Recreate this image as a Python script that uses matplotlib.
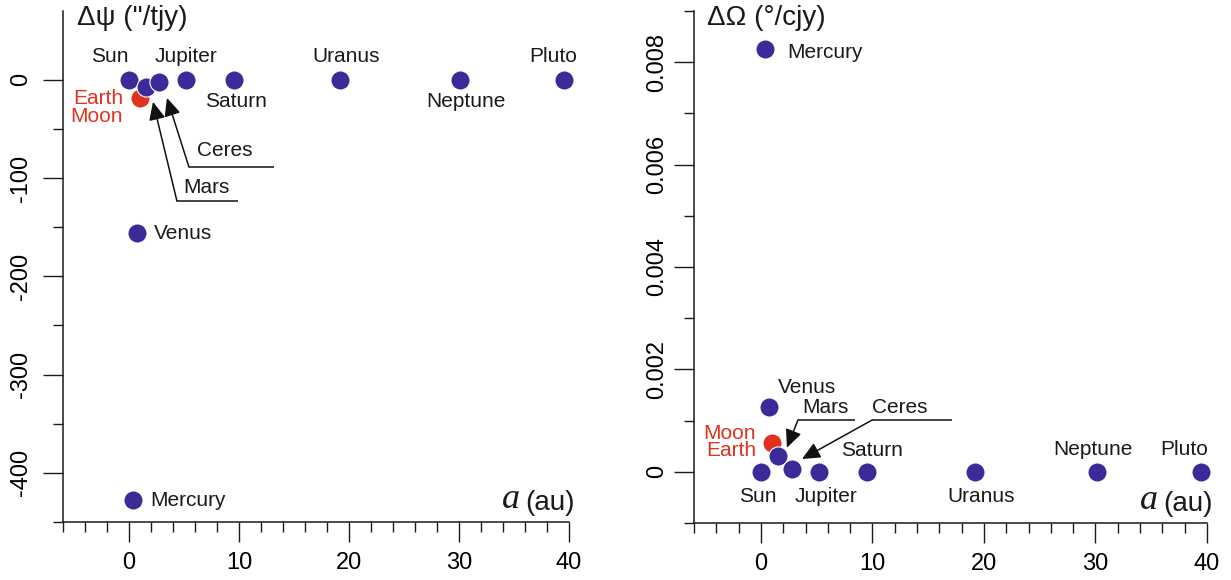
import matplotlib
matplotlib.use("Agg")
import matplotlib.pyplot as plt
from matplotlib.ticker import MultipleLocator, FixedLocator, FuncFormatter

# ---------------- data ----------------
names = ['Sun', 'Mercury', 'Venus', 'Earth', 'Mars', 'Ceres',
         'Jupiter', 'Saturn', 'Uranus', 'Neptune', 'Pluto']
a_au = [0.0, 0.39, 0.72, 1.0, 1.52, 2.77, 5.2, 9.54, 19.2, 30.1, 39.5]
dpsi = [0.0, -428.0, -156.0, -19.0, -7.5, -2.5, 0.0, 0.0, 0.0, 0.0, 0.0]          # "/tjy
domega = [0.0, 0.00826, 0.00127, 0.00056, 0.00031, 0.00006,
          0.0, 0.0, 0.0, 0.0, 0.0]                                               # deg/cjy
left_yticks = [0, -100, -200, -300, -400]
left_yminor = [-50, -150, -250, -350, -450]
right_yticks = [0, 0.002, 0.004, 0.006, 0.008]
xticks = [0, 10, 20, 30, 40]

BLUE = '#3a2b98'
RED = '#e0321e'
INK = '#1a1a1a'
FONT = 'Liberation Sans'
plt.rcParams['font.family'] = [FONT, 'DejaVu Sans']
plt.rcParams['axes.unicode_minus'] = False

fig = plt.figure(figsize=(12.31, 5.80), dpi=100)
axL = fig.add_axes([63 / 1231, 1 - 522 / 580, 506 / 1231, 511 / 580])
axR = fig.add_axes([694 / 1231, 1 - 523 / 580, 513 / 1231, 512 / 580])

PX = 0.72  # points per pixel


def style(ax, ypad):
    for s in ('top', 'right'):
        ax.spines[s].set_visible(False)
    for s in ('left', 'bottom'):
        ax.spines[s].set_linewidth(1.1)
        ax.spines[s].set_color(INK)
    ax.set_xlim(-6, 40)
    ax.xaxis.set_major_locator(MultipleLocator(10))
    ax.xaxis.set_minor_locator(MultipleLocator(2))
    ax.tick_params(which='major', direction='out', length=14.4, width=1.0,
                   color=INK, labelsize=17)
    ax.tick_params(which='minor', direction='out', length=7.2, width=1.0,
                   color=INK)
    ax.tick_params(axis='x', pad=7)
    ax.tick_params(axis='y', labelrotation=90, pad=ypad)
    for lbl in ax.get_yticklabels():
        lbl.set_va('center')
    ax.patch.set_alpha(0)


def plot_points(ax, yvals):
    order = [3, 0, 1, 2, 4, 5, 6, 7, 8, 9, 10]
    for k, i in enumerate(order):
        c = RED if names[i] == 'Earth' else BLUE
        ax.scatter([a_au[i]], [yvals[i]], s=190, color=c, edgecolor='white',
                   linewidth=0.8, zorder=3 + k * 0.01, clip_on=False)


def lab(ax, i, yvals, text, dx, dy, ha='center', color=INK, size=15):
    # dx, dy in pixels (dy positive = up)
    ax.annotate(text, xy=(a_au[i], yvals[i]), xytext=(dx * PX, dy * PX),
                textcoords='offset points', ha=ha, va='center',
                fontsize=size, color=color, zorder=6)


def bent_arrow(ax, end, corner, tip):
    ax.plot([end[0], corner[0]], [end[1], corner[1]], color='#111111', lw=1.1,
            solid_capstyle='butt', zorder=5)
    ax.annotate('', xy=tip, xytext=corner,
                arrowprops=dict(arrowstyle='-|>,head_length=1.1,head_width=0.5',
                                mutation_scale=10, color='#111111', lw=1.1,
                                shrinkA=0, shrinkB=0), zorder=5)


def axis_label(ax):
    t = ax.text(1.012, 0.024, '(au)', transform=ax.transAxes, ha='right',
                va='baseline', fontsize=20, color=INK)
    ax.annotate('a', xy=(0, 0), xycoords=t, xytext=(-4, 0),
                textcoords='offset points', ha='right', va='bottom',
                fontsize=26, family='Liberation Serif', style='italic',
                color=INK)


# ---------------- left panel ----------------
style(axL, 8)
axL.set_ylim(-450, 70)
axL.set_yticks(left_yticks)
axL.yaxis.set_minor_locator(FixedLocator(left_yminor))
axL.set_xticks(xticks)
plot_points(axL, dpsi)

lab(axL, 0, dpsi, 'Sun', -19, 23)
lab(axL, 6, dpsi, 'Jupiter', 0, 23)
lab(axL, 7, dpsi, 'Saturn', 2, -22)
lab(axL, 8, dpsi, 'Uranus', 6, 23)
lab(axL, 9, dpsi, 'Neptune', 6, -22)
lab(axL, 10, dpsi, 'Pluto', -10, 23)
lab(axL, 2, dpsi, 'Venus', 17, 0, ha='left')
lab(axL, 1, dpsi, 'Mercury', 17, 0, ha='left')
lab(axL, 3, dpsi, 'Earth', -17, 0, ha='right', color=RED)
lab(axL, 3, dpsi, 'Moon', -17, -18, ha='right', color=RED)

bent_arrow(axL, (9.9, -123.5), (4.36, -123.5), (2.18, -22.4))
bent_arrow(axL, (13.2, -88.8), (5.45, -88.8), (3.45, -18.4))
axL.text(4.9, -109.2, 'Mars', ha='left', va='center', fontsize=15, color=INK)
axL.text(6.2, -72.4, 'Ceres', ha='left', va='center', fontsize=15, color=INK)

axL.text(14 / 506, 1 - 7 / 511, 'Δψ ("/tjy)', transform=axL.transAxes,
         ha='left', va='center', fontsize=20, color=INK)
axis_label(axL)

# ---------------- right panel ----------------
style(axR, 4)
axR.set_ylim(-0.001, 0.009)
axR.set_yticks(right_yticks)
axR.yaxis.set_minor_locator(MultipleLocator(0.001))
axR.yaxis.set_major_formatter(FuncFormatter(lambda v, p: '0' if abs(v) < 1e-12 else f'{v:.3f}'))
axR.set_xticks(xticks)
plot_points(axR, domega)

lab(axR, 1, domega, 'Mercury', 22, -4, ha='left')
lab(axR, 2, domega, 'Venus', 9, 19, ha='left')
lab(axR, 0, domega, 'Sun', -3, -25)
lab(axR, 6, domega, 'Jupiter', 7, -25)
lab(axR, 7, domega, 'Saturn', 5, 21)
lab(axR, 8, domega, 'Uranus', 6, -25)
lab(axR, 9, domega, 'Neptune', -4, 22)
lab(axR, 10, domega, 'Pluto', -17, 22)
lab(axR, 3, domega, 'Moon', -16, 10, ha='right', color=RED)
lab(axR, 3, domega, 'Earth', -16, -7, ha='right', color=RED)

bent_arrow(axR, (8.43, 0.00101), (3.32, 0.00101), (2.33, 0.00047))
bent_arrow(axR, (17.1, 0.00101), (9.96, 0.00101), (3.68, 0.00025))
axR.text(3.68, 0.00125, 'Mars', ha='left', va='center', fontsize=15, color=INK)
axR.text(10.0, 0.00125, 'Ceres', ha='left', va='center', fontsize=15, color=INK)

axR.text(13 / 513, 1 - 7 / 512, 'ΔΩ (°/cjy)', transform=axR.transAxes,
         ha='left', va='center', fontsize=20, color=INK)
axis_label(axR)

fig.savefig('out.png', dpi=100)
